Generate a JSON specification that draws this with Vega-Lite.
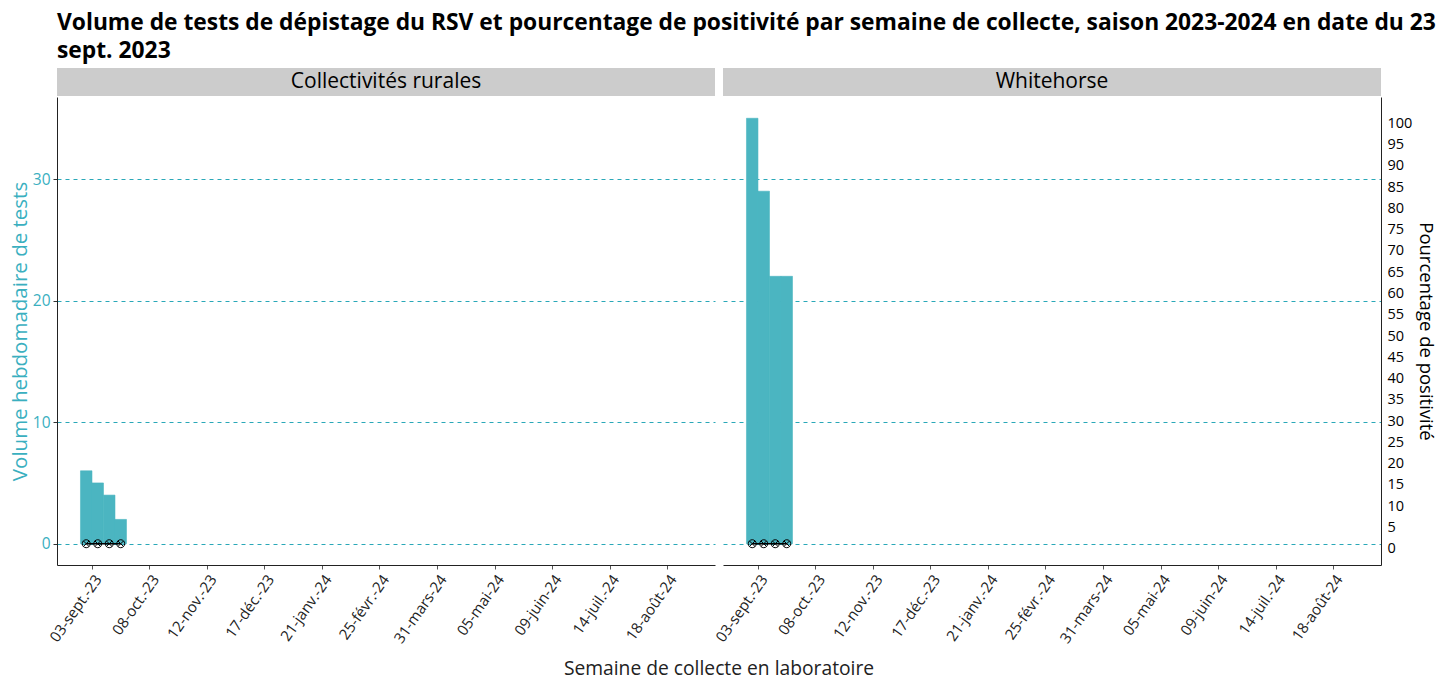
{
  "$schema": "https://vega.github.io/schema/vega-lite/v6.json",
  "padding": {"left": 10, "top": 12, "right": 4, "bottom": 0},
  "background": "white",
  "title": {
    "text": ["Volume de tests de dépistage du RSV et pourcentage de positivité par semaine de collecte, saison 2023-2024 en date du 23", "sept. 2023"],
    "anchor": "start",
    "frame": "group",
    "fontSize": 22.8,
    "fontWeight": "bold",
    "color": "black",
    "lineHeight": 28,
    "offset": 5
  },
  "datasets": {
    "d": [
      {"region": "Collectivités rurales", "debut": "2023-08-27T00:00:00", "fin": "2023-09-03T00:00:00", "milieu": "2023-08-30T12:00:00", "volume": 6, "pourcentage": 0},
      {"region": "Collectivités rurales", "debut": "2023-09-03T00:00:00", "fin": "2023-09-10T00:00:00", "milieu": "2023-09-06T12:00:00", "volume": 5, "pourcentage": 0},
      {"region": "Collectivités rurales", "debut": "2023-09-10T00:00:00", "fin": "2023-09-17T00:00:00", "milieu": "2023-09-13T12:00:00", "volume": 4, "pourcentage": 0},
      {"region": "Collectivités rurales", "debut": "2023-09-17T00:00:00", "fin": "2023-09-24T00:00:00", "milieu": "2023-09-20T12:00:00", "volume": 2, "pourcentage": 0},
      {"region": "Whitehorse", "debut": "2023-08-27T00:00:00", "fin": "2023-09-03T00:00:00", "milieu": "2023-08-30T12:00:00", "volume": 35, "pourcentage": 0},
      {"region": "Whitehorse", "debut": "2023-09-03T00:00:00", "fin": "2023-09-10T00:00:00", "milieu": "2023-09-06T12:00:00", "volume": 29, "pourcentage": 0},
      {"region": "Whitehorse", "debut": "2023-09-10T00:00:00", "fin": "2023-09-17T00:00:00", "milieu": "2023-09-13T12:00:00", "volume": 22, "pourcentage": 0},
      {"region": "Whitehorse", "debut": "2023-09-17T00:00:00", "fin": "2023-09-24T00:00:00", "milieu": "2023-09-20T12:00:00", "volume": 22, "pourcentage": 0}
    ]
  },
  "vconcat": [
    {
      "columns": 2,
      "bounds": "flush",
      "spacing": {"row": 1, "column": 8},
      "concat": [
        {
          "width": 658,
          "height": 28,
          "view": {"fill": "#CCCCCC", "stroke": null},
          "data": {"values": [{"panneau": "Collectivités rurales"}]},
          "mark": {"type": "text", "fontSize": 21, "color": "black", "baseline": "middle"},
          "encoding": {"text": {"field": "panneau"}}
        },
        {
          "width": 658,
          "height": 28,
          "view": {"fill": "#CCCCCC", "stroke": null},
          "data": {"values": [{"panneau": "Whitehorse"}]},
          "mark": {"type": "text", "fontSize": 21, "color": "black", "baseline": "middle"},
          "encoding": {"text": {"field": "panneau"}}
        },
        {
          "width": 658,
          "height": 468,
          "data": {"name": "d"},
          "transform": [{"filter": "datum.region === 'Collectivités rurales'"}],
          "layer": [
            {
              "mark": {"type": "bar", "color": "#4BB5C1", "stroke": "#4BB5C1", "strokeWidth": 0.6},
              "encoding": {
                "x": {
                  "field": "debut", "type": "temporal", "title": null,
                  "scale": {"domain": [{"year": 2023, "month": 8, "date": 12, "hours": 17}, {"year": 2024, "month": 9, "date": 16, "hours": 5}]},
                  "axis": {
                    "values": [
                      {"year": 2023, "month": 9, "date": 3}, {"year": 2023, "month": 10, "date": 8}, {"year": 2023, "month": 11, "date": 12},
                      {"year": 2023, "month": 12, "date": 17}, {"year": 2024, "month": 1, "date": 21}, {"year": 2024, "month": 2, "date": 25},
                      {"year": 2024, "month": 3, "date": 31}, {"year": 2024, "month": 5, "date": 5}, {"year": 2024, "month": 6, "date": 9},
                      {"year": 2024, "month": 7, "date": 14}, {"year": 2024, "month": 8, "date": 18}
                    ],
                    "format": "%d-%b-%y", "labelAngle": -55, "labelAlign": "right", "labelBaseline": "top",
                    "labelFontSize": 15, "labelColor": "#222222", "labelPadding": 3,
                    "tickColor": "#555555", "tickSize": 4, "domainColor": "#222222", "grid": false, "labelOverlap": false
                  }
                },
                "x2": {"field": "fin"},
                "y": {
                  "field": "volume", "type": "quantitative",
                  "scale": {"domain": [-1.75, 36.75], "nice": false},
                  "axis": {
                    "values": [0, 10, 20, 30], "title": "Volume hebdomadaire de tests", "titleColor": "#3AAFBF",
                    "titleFontSize": 20.5, "titleFontWeight": "normal", "titlePadding": 2,
                    "labelColor": "#3AAFBF", "labelFontSize": 15.5, "labelPadding": 3,
                    "grid": true, "gridColor": "#2AA8B8", "gridDash": [4, 4], "gridWidth": 1,
                    "tickSize": 4, "tickColor": "#333333", "domainColor": "#222222"
                  }
                },
                "y2": {"datum": 0}
              }
            },
            {
              "mark": {"type": "line", "color": "black", "strokeWidth": 1.5},
              "encoding": {
                "x": {"field": "milieu", "type": "temporal", "title": null},
                "y": {"field": "pourcentage", "type": "quantitative", "scale": {"domain": [-5, 105], "nice": false}, "axis": null}
              }
            },
            {
              "mark": {"type": "point", "shape": "M-1,0A1,1,0,1,1,1,0A1,1,0,1,1,-1,0ZM-0.7071,-0.7071L0.7071,0.7071M-0.7071,0.7071L0.7071,-0.7071", "filled": false, "color": "black", "size": 64, "strokeWidth": 1, "opacity": 1},
              "encoding": {
                "x": {"field": "milieu", "type": "temporal", "title": null},
                "y": {"field": "pourcentage", "type": "quantitative", "scale": {"domain": [-5, 105], "nice": false}, "axis": null}
              }
            }
          ],
          "resolve": {"scale": {"y": "independent"}}
        },
        {
          "width": 658,
          "height": 468,
          "data": {"name": "d"},
          "transform": [{"filter": "datum.region === 'Whitehorse'"}],
          "layer": [
            {
              "mark": {"type": "bar", "color": "#4BB5C1", "stroke": "#4BB5C1", "strokeWidth": 0.6},
              "encoding": {
                "x": {
                  "field": "debut", "type": "temporal", "title": null,
                  "scale": {"domain": [{"year": 2023, "month": 8, "date": 12, "hours": 17}, {"year": 2024, "month": 9, "date": 16, "hours": 5}]},
                  "axis": {
                    "values": [
                      {"year": 2023, "month": 9, "date": 3}, {"year": 2023, "month": 10, "date": 8}, {"year": 2023, "month": 11, "date": 12},
                      {"year": 2023, "month": 12, "date": 17}, {"year": 2024, "month": 1, "date": 21}, {"year": 2024, "month": 2, "date": 25},
                      {"year": 2024, "month": 3, "date": 31}, {"year": 2024, "month": 5, "date": 5}, {"year": 2024, "month": 6, "date": 9},
                      {"year": 2024, "month": 7, "date": 14}, {"year": 2024, "month": 8, "date": 18}
                    ],
                    "format": "%d-%b-%y", "labelAngle": -55, "labelAlign": "right", "labelBaseline": "top",
                    "labelFontSize": 15, "labelColor": "#222222", "labelPadding": 3,
                    "tickColor": "#555555", "tickSize": 4, "domainColor": "#222222", "grid": false, "labelOverlap": false
                  }
                },
                "x2": {"field": "fin"},
                "y": {
                  "field": "volume", "type": "quantitative",
                  "scale": {"domain": [-1.75, 36.75], "nice": false},
                  "axis": {
                    "values": [0, 10, 20, 30], "title": null, "labels": false, "ticks": false, "domain": false,
                    "grid": true, "gridColor": "#2AA8B8", "gridDash": [4, 4], "gridWidth": 1
                  }
                },
                "y2": {"datum": 0}
              }
            },
            {
              "mark": {"type": "line", "color": "black", "strokeWidth": 1.5},
              "encoding": {
                "x": {"field": "milieu", "type": "temporal", "title": null},
                "y": {
                  "field": "pourcentage", "type": "quantitative",
                  "scale": {"domain": [-5, 105], "nice": false},
                  "axis": {
                    "orient": "right", "values": [0, 5, 10, 15, 20, 25, 30, 35, 40, 45, 50, 55, 60, 65, 70, 75, 80, 85, 90, 95, 100],
                    "title": "Pourcentage de positivité", "titleFontSize": 18.5, "titleFontWeight": "normal", "titleColor": "black", "titlePadding": 4,
                    "labelFontSize": 14.5, "labelColor": "black", "labelOffset": 5, "labelPadding": 6,
                    "ticks": false, "domainColor": "#222222", "grid": false, "labelOverlap": false
                  }
                }
              }
            },
            {
              "mark": {"type": "point", "shape": "M-1,0A1,1,0,1,1,1,0A1,1,0,1,1,-1,0ZM-0.7071,-0.7071L0.7071,0.7071M-0.7071,0.7071L0.7071,-0.7071", "filled": false, "color": "black", "size": 64, "strokeWidth": 1, "opacity": 1},
              "encoding": {
                "x": {"field": "milieu", "type": "temporal", "title": null},
                "y": {"field": "pourcentage", "type": "quantitative", "scale": {"domain": [-5, 105], "nice": false}, "axis": null}
              }
            }
          ],
          "resolve": {"scale": {"y": "independent"}}
        }
      ]
    },
    {
      "width": 1324,
      "height": 22,
      "data": {"values": [{"t": "Semaine de collecte en laboratoire"}]},
      "mark": {"type": "text", "fontSize": 19.25, "color": "#222222", "baseline": "middle"},
      "encoding": {"text": {"field": "t"}}
    }
  ],
  "spacing": 12,
  "config": {
    "font": "Open Sans",
    "view": {"stroke": null},
    "locale": {
      "number": {"decimal": ",", "thousands": " ", "grouping": [3], "currency": ["", " $"]},
      "time": {
        "dateTime": "%A %e %B %Y à %X",
        "date": "%d/%m/%Y",
        "time": "%H:%M:%S",
        "periods": ["AM", "PM"],
        "days": ["dimanche", "lundi", "mardi", "mercredi", "jeudi", "vendredi", "samedi"],
        "shortDays": ["dim.", "lun.", "mar.", "mer.", "jeu.", "ven.", "sam."],
        "months": ["janvier", "février", "mars", "avril", "mai", "juin", "juillet", "août", "septembre", "octobre", "novembre", "décembre"],
        "shortMonths": ["janv.", "févr.", "mars", "avr.", "mai", "juin", "juil.", "août", "sept.", "oct.", "nov.", "déc."]
      }
    }
  }
}
